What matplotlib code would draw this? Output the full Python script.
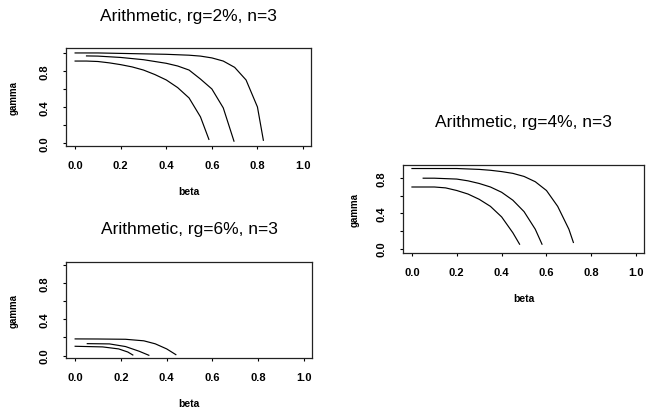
import matplotlib
matplotlib.use("Agg")
import matplotlib.pyplot as plt

plt.rcParams['font.family'] = ['Liberation Sans', 'DejaVu Sans']

W, H = 649, 414

beta_ticks = [0.0, 0.2, 0.4, 0.6, 0.8, 1.0]
beta_labels = ['0.0', '0.2', '0.4', '0.6', '0.8', '1.0']
gamma_ticks = [0.0, 0.2, 0.4, 0.6, 0.8, 1.0]
gamma_labels = ['0.0', '', '0.4', '', '0.8', '']

# rg = 2%
rg2_a_beta = [0.0, 0.1, 0.2, 0.3, 0.4, 0.5, 0.55, 0.6, 0.65, 0.7, 0.75, 0.8, 0.826]
rg2_a_gamma = [1.0, 1.0, 0.995, 0.99, 0.985, 0.975, 0.965, 0.945, 0.91, 0.84, 0.70, 0.40, 0.03]
rg2_b_beta = [0.05, 0.1, 0.2, 0.3, 0.4, 0.45, 0.5, 0.55, 0.6, 0.65, 0.697]
rg2_b_gamma = [0.967, 0.965, 0.95, 0.925, 0.885, 0.855, 0.81, 0.71, 0.60, 0.39, 0.02]
rg2_c_beta = [0.0, 0.05, 0.1, 0.15, 0.2, 0.25, 0.3, 0.35, 0.4, 0.45, 0.5, 0.55, 0.587]
rg2_c_gamma = [0.91, 0.91, 0.905, 0.89, 0.87, 0.845, 0.81, 0.76, 0.70, 0.615, 0.50, 0.29, 0.04]

# rg = 4%
rg4_a_beta = [0.0, 0.1, 0.2, 0.3, 0.35, 0.4, 0.45, 0.5, 0.55, 0.6, 0.65, 0.7, 0.72]
rg4_a_gamma = [0.91, 0.91, 0.91, 0.90, 0.89, 0.875, 0.855, 0.82, 0.76, 0.66, 0.48, 0.22, 0.07]
rg4_b_beta = [0.05, 0.1, 0.2, 0.25, 0.3, 0.35, 0.4, 0.45, 0.5, 0.55, 0.58]
rg4_b_gamma = [0.80, 0.80, 0.79, 0.77, 0.74, 0.70, 0.64, 0.55, 0.42, 0.22, 0.05]
rg4_c_beta = [0.0, 0.1, 0.15, 0.2, 0.25, 0.3, 0.35, 0.4, 0.45, 0.48]
rg4_c_gamma = [0.70, 0.70, 0.69, 0.66, 0.62, 0.56, 0.48, 0.36, 0.18, 0.05]

# rg = 6%
rg6_a_beta = [0.0, 0.1, 0.22, 0.3, 0.35, 0.4, 0.44]
rg6_a_gamma = [0.184, 0.183, 0.18, 0.163, 0.13, 0.074, 0.011]
rg6_b_beta = [0.053, 0.15, 0.22, 0.28, 0.322]
rg6_b_gamma = [0.132, 0.129, 0.10, 0.048, 0.004]
rg6_c_beta = [0.0, 0.12, 0.19, 0.23, 0.252]
rg6_c_gamma = [0.103, 0.096, 0.074, 0.04, 0.007]


def make_panel(fig, box, ylim, title, curves, title_gap, ylab_gap):
    x0, y0, x1, y1 = box
    hpx = y1 - y0
    wpx = x1 - x0
    ax = fig.add_axes([x0 / W, 1 - y1 / H, wpx / W, hpx / H])
    for b, g in curves:
        ax.plot(b, g, color='black', linewidth=0.85)
    ax.set_xlim(-0.04, 1.035)
    ax.set_ylim(*ylim)
    ax.set_xticks(beta_ticks)
    ax.set_xticklabels(beta_labels)
    ax.set_yticks([t for t in gamma_ticks if ylim[0] <= t <= ylim[1]])
    ax.set_yticklabels([l for t, l in zip(gamma_ticks, gamma_labels) if ylim[0] <= t <= ylim[1]])
    ax.tick_params(axis='both', direction='out', length=2.2, width=0.8,
                   labelsize=8, colors='black')
    ax.tick_params(axis='x', pad=8)
    ax.tick_params(axis='y', pad=9.5, labelrotation=90)
    for lab in ax.get_xticklabels() + ax.get_yticklabels():
        lab.set_fontweight('bold')
    for lab in ax.get_yticklabels():
        lab.set_va('center')
    for sp in ax.spines.values():
        sp.set_color('#222222')
        sp.set_linewidth(0.9)
    ax.set_xlabel('beta', fontsize=7.5, fontweight='bold', va='center')
    ax.xaxis.set_label_coords(0.5, -44.7 / hpx)
    ax.set_ylabel('gamma', fontsize=7, fontweight='bold', va='center')
    ax.yaxis.set_label_coords(-ylab_gap / wpx, 0.5)
    ax.text(0.5, 1 + title_gap / hpx, title, transform=ax.transAxes,
            ha='center', va='center', fontsize=12.5)
    return ax


fig = plt.figure(figsize=(W / 100, H / 100), dpi=100)

make_panel(fig, (66, 49, 311, 147.3), (-0.037, 1.055), 'Arithmetic, rg=2%, n=3',
           [(rg2_a_beta, rg2_a_gamma), (rg2_b_beta, rg2_b_gamma), (rg2_c_beta, rg2_c_gamma)],
           33, 52.5)
make_panel(fig, (66, 263, 312, 359), (-0.026, 1.03), 'Arithmetic, rg=6%, n=3',
           [(rg6_a_beta, rg6_a_gamma), (rg6_b_beta, rg6_b_gamma), (rg6_c_beta, rg6_c_gamma)],
           33, 52.5)
make_panel(fig, (403, 166, 644, 254), (-0.05, 0.95), 'Arithmetic, rg=4%, n=3',
           [(rg4_a_beta, rg4_a_gamma), (rg4_b_beta, rg4_b_gamma), (rg4_c_beta, rg4_c_gamma)],
           43.5, 48)

fig.savefig('out.png', dpi=100)
